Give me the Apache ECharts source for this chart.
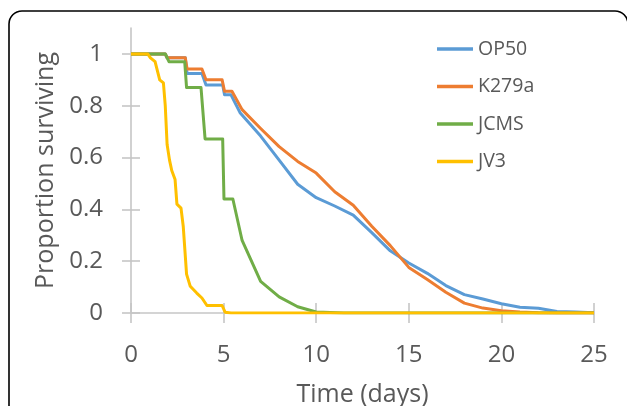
<!DOCTYPE html>
<html>
<head>
<meta charset="utf-8">
<script src="https://cdn.jsdelivr.net/npm/echarts@6/dist/echarts.min.js"></script>
<style>
html,body{margin:0;padding:0;background:#fff;}
#chart{width:627px;height:406px;}
</style>
</head>
<body>
<div id="chart"></div>
<script>
// ---- data ----
const seriesNames = ['OP50', 'K279a', 'JCMS', 'JV3'];

const op50T = [0, 1.85, 1.95, 2.93, 3.03, 3.83, 4.05, 4.95, 5.05, 5.4, 5.9, 7, 8, 9, 10, 11, 12, 13, 14, 15, 16, 17, 18, 19, 20, 21, 22, 23, 24, 25];
const op50S = [1, 1, 0.985, 0.985, 0.924, 0.924, 0.88, 0.88, 0.842, 0.842, 0.772, 0.683, 0.59, 0.497, 0.445, 0.413, 0.378, 0.31, 0.24, 0.193, 0.153, 0.106, 0.071, 0.054, 0.036, 0.022, 0.018, 0.006, 0.004, 0.001];

const k279aT = [0, 1.85, 1.95, 2.93, 3.03, 3.83, 4.05, 4.92, 5.05, 5.45, 6, 7, 8, 9, 10, 11, 12, 13, 14, 15, 16, 17, 18, 19, 20, 21, 22, 23, 25];
const k279aS = [1, 1, 0.985, 0.985, 0.942, 0.942, 0.9, 0.9, 0.856, 0.856, 0.785, 0.712, 0.642, 0.585, 0.54, 0.468, 0.416, 0.335, 0.26, 0.176, 0.129, 0.08, 0.038, 0.019, 0.009, 0.004, 0.001, 0, 0];

const jcmsT = [0, 1.85, 2.05, 2.9, 3.0, 3.78, 4.0, 4.95, 5.02, 5.5, 6.0, 7.0, 8.0, 9.0, 10, 11.5, 25];
const jcmsS = [1, 1, 0.97, 0.97, 0.87, 0.87, 0.672, 0.672, 0.44, 0.44, 0.28, 0.122, 0.062, 0.024, 0.004, 0, 0];

const jv3T = [0, 0.9, 1.05, 1.3, 1.55, 1.75, 1.85, 1.95, 2.08, 2.2, 2.38, 2.48, 2.7, 2.82, 2.9, 3.0, 3.2, 3.55, 3.83, 4.1, 4.92, 5.08, 5.4, 25];
const jv3S = [1, 1, 0.985, 0.97, 0.9, 0.888, 0.8, 0.65, 0.59, 0.55, 0.515, 0.42, 0.405, 0.335, 0.328, 0.15, 0.103, 0.077, 0.058, 0.029, 0.029, 0.003, 0, 0];

const xTicks = [0, 5, 10, 15, 20, 25];
const yTicks = [0, 0.2, 0.4, 0.6, 0.8, 1];

const colors = ['#5B9BD5', '#ED7D31', '#70AD47', '#FFC000'];
const xTitle = 'Time (days)';
const yTitle = 'Proportion surviving';

// ---- build ----
const zip = (t, s) => t.map((v, i) => [v, s[i]]);
const allData = [zip(op50T, op50S), zip(k279aT, k279aS), zip(jcmsT, jcmsS), zip(jv3T, jv3S)];

const FONT = '"Open Sans", "Noto Sans", sans-serif';
const TXT = '#595959';
const AX = '#C6C6C6';

const chart = echarts.init(document.getElementById('chart'), null, {renderer: 'canvas'});

const xBase = {
  type: 'value', min: 0, max: 25, interval: 5, gridIndex: 0, position: 'bottom',
  splitLine: {show: false}
};
const yBase = {
  type: 'value', min: 0, max: 1.1, gridIndex: 0, position: 'left',
  splitLine: {show: false}
};

chart.setOption({
  animation: false,
  color: colors,
  textStyle: {fontFamily: FONT},
  graphic: [{
    type: 'rect', z: -10, silent: true,
    shape: {x: 9, y: 11, width: 619, height: 430, r: 13},
    style: {fill: 'none', stroke: '#000', lineWidth: 1.6}
  }],
  grid: {left: 131, right: 33, top: 28, bottom: 93, containLabel: false, outerBoundsMode: 'none'},
  legend: {
    orient: 'vertical', left: 432, top: 34,
    data: seriesNames,
    icon: 'rect', itemWidth: 36, itemHeight: 3.5, itemGap: 17.5,
    textStyle: {fontFamily: FONT, fontSize: 19.5, color: TXT, lineHeight: 20},
    selectedMode: false
  },
  xAxis: [
    Object.assign({}, xBase, {
      name: xTitle, nameLocation: 'middle', nameGap: 69,
      nameTextStyle: {fontFamily: FONT, fontSize: 25, color: TXT},
      axisLine: {show: true, lineStyle: {color: AX, width: 1.6}},
      axisTick: {show: true, length: 10, inside: false, lineStyle: {color: AX, width: 1.6}, customValues: xTicks},
      axisLabel: {show: true, margin: 30, fontFamily: FONT, fontSize: 24, color: TXT, customValues: xTicks}
    }),
    Object.assign({}, xBase, {
      axisLine: {show: false},
      axisTick: {show: true, length: 10, inside: true, lineStyle: {color: AX, width: 1.6}, customValues: xTicks},
      axisLabel: {show: false}
    })
  ],
  yAxis: [
    Object.assign({}, yBase, {
      name: yTitle, nameLocation: 'middle', nameGap: 70,
      nameTextStyle: {fontFamily: FONT, fontSize: 25, color: TXT},
      axisLine: {show: true, lineStyle: {color: AX, width: 1.6}},
      axisTick: {show: true, length: 9, inside: false, lineStyle: {color: AX, width: 1.6}, customValues: yTicks},
      axisLabel: {show: true, margin: 28, fontFamily: FONT, fontSize: 24, color: TXT, customValues: yTicks,
        formatter: v => String(Math.round(v * 10) / 10)}
    }),
    Object.assign({}, yBase, {
      axisLine: {show: false},
      axisTick: {show: true, length: 9, inside: true, lineStyle: {color: AX, width: 1.6}, customValues: yTicks},
      axisLabel: {show: false}
    })
  ],
  series: seriesNames.map((n, i) => ({
    name: n, type: 'line', xAxisIndex: 0, yAxisIndex: 0,
    data: allData[i], showSymbol: false, symbol: 'none', smooth: false,
    lineStyle: {width: 3, color: colors[i], join: 'round'},
    itemStyle: {color: colors[i]},
    z: 2 + i
  }))
});
</script>
</body>
</html>
